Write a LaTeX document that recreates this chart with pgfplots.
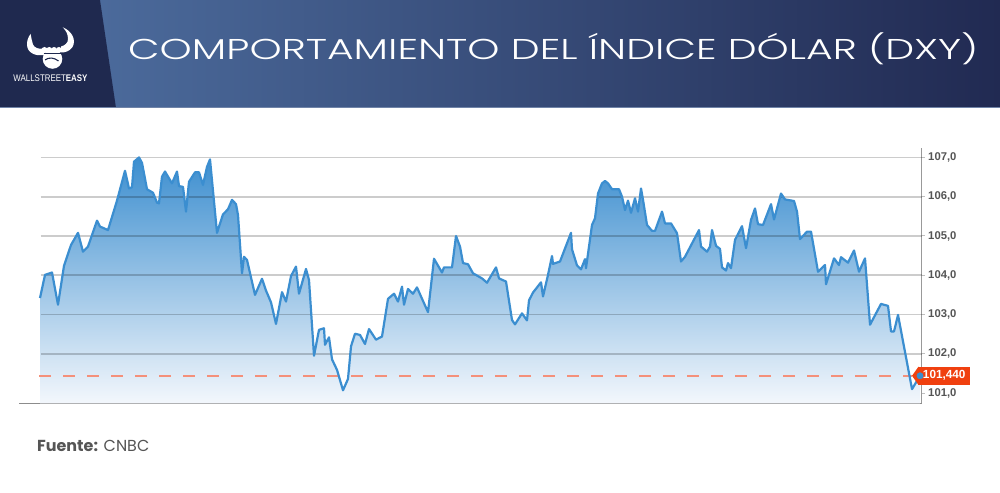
\documentclass[border=0pt]{standalone}
\usepackage{pgfplots}
\pgfplotsset{compat=1.18}
\usepackage{pgfplotstable}
\usepackage{graphicx}
\usepackage{fontspec}
\setmainfont{Liberation Sans}
\newfontfamily\titlefont{Poppins Light}
\newfontfamily\srcfont{Poppins}

\definecolor{navy}{HTML}{1F294F}
\definecolor{hdrL}{HTML}{4B6A9B}
\definecolor{hdrR}{HTML}{212A52}
\definecolor{hdrline}{HTML}{7084A8}
\definecolor{lineblue}{HTML}{3B8ED0}
\definecolor{filltop}{HTML}{3C8ECF}
\definecolor{fillbot}{HTML}{F3F7FC}
\definecolor{dashc}{HTML}{F4907A}
\definecolor{tagred}{HTML}{F0400F}
\definecolor{ticktext}{HTML}{555555}
\definecolor{axisgray}{HTML}{8C8C8C}

% DXY index, x = position along the time axis
\pgfplotstableread{
x y
40 103.42
45 104.01
52 104.07
58 103.25
64 104.24
71 104.77
78 105.08
83 104.60
88 104.73
97 105.39
100 105.24
108 105.15
117 105.90
125 106.66
129 106.21
132 106.24
134 106.89
139 107.00
142 106.86
147 106.19
153 106.10
157 105.85
159 105.83
162 106.51
165 106.64
172 106.34
177 106.64
179 106.27
183 106.25
186 105.62
189 106.38
195 106.62
199 106.62
203 106.30
207 106.76
210 106.95
217 105.08
223 105.55
228 105.68
232 105.92
236 105.81
238 105.53
242 104.05
244 104.47
247 104.39
255 103.50
262 103.91
266 103.61
271 103.31
276 102.76
282 103.57
286 103.33
291 103.98
296 104.22
299 103.53
306 104.16
309 103.88
314 101.95
319 102.61
324 102.65
325 102.23
329 102.42
332 101.86
337 101.59
343 101.07
348 101.36
351 102.19
355 102.51
360 102.48
365 102.25
369 102.63
376 102.36
382 102.44
388 103.40
394 103.53
398 103.33
402 103.71
404 103.25
408 103.65
413 103.53
417 103.69
428 103.06
434 104.42
442 104.07
444 104.20
452 104.20
456 105.00
460 104.73
463 104.31
468 104.28
473 104.05
482 103.92
487 103.81
496 104.20
499 103.92
506 103.84
512 102.86
515 102.75
522 103.03
527 102.85
529 103.36
533 103.56
541 103.82
543 103.46
548 104.01
552 104.49
553 104.29
560 104.35
571 105.08
572 104.66
577 104.25
581 104.15
585 104.41
586 104.18
592 105.28
595 105.45
598 106.08
602 106.34
605 106.40
608 106.34
612 106.19
619 106.19
622 106.00
625 105.66
628 105.90
631 105.59
635 105.96
638 105.62
641 106.21
643 105.92
647 105.28
652 105.13
655 105.13
662 105.62
665 105.32
671 105.32
677 105.07
681 104.35
685 104.47
699 105.15
701 104.73
707 104.60
710 104.73
712 105.15
716 104.75
720 104.67
722 104.20
726 104.12
728 104.31
731 104.18
735 104.90
742 105.25
746 104.69
751 105.41
755 105.70
758 105.30
763 105.28
771 105.81
774 105.42
781 106.08
785 105.93
794 105.89
797 105.62
800 104.92
807 105.11
811 105.11
818 104.09
825 104.26
826 103.77
834 104.43
839 104.26
841 104.46
848 104.32
854 104.63
859 104.09
865 104.43
870 102.74
881 103.27
888 103.22
891 102.57
894 102.57
898 102.99
912 101.10
920 101.44
}\dxy

\begin{document}
\begin{tikzpicture}[x=1bp,y=1bp]
\path[use as bounding box] (0,0) rectangle (1000,493);
\fill[white] (0,0) rectangle (1000,493);

% header band
\shade[left color=hdrL, right color=hdrR] (100,385) rectangle (1000,493);
\fill[navy] (0,385) -- (0,493) -- (100,493) -- (116,385) -- cycle;
\draw[hdrline, line width=1.2bp] (0,385.6) -- (1000,385.6);

% logo
\begin{scope}[shift={(0,493)}, yscale=-1]
  \fill[white] (30.5,34) .. controls (25.5,41) and (25.5,50) .. (32.5,53.5)
    .. controls (36,55.5) and (40,55.5) .. (44,55) -- (44,48.5)
    .. controls (39,49.5) and (34.5,48) .. (33,44.5)
    .. controls (31.5,41) and (31.5,37) .. cycle;
  \fill[white] (62.7,27.3) .. controls (72,31) and (76.5,40) .. (72.5,47)
    .. controls (69.5,51.5) and (65,52.5) .. (61,52.5) -- (61,46.5)
    .. controls (65,45.5) and (68,43) .. (68,39)
    .. controls (68,34) and (66,30.5) .. cycle;
  \fill[white] (52.5,59) circle (9.8);
  \foreach \k in {44.5,49.3,54.1,58.9} \fill[white] (\k,50) circle (3);
  \draw[navy, line width=1bp] (43.5,54) -- (61.5,54);
  \draw[navy, line width=1.1bp] (45,60) .. controls (49,57) and (54,57.5) .. (58.5,61);
\end{scope}
\node[anchor=base west, inner sep=0, text=white] at (13.3,411.3)
  {\resizebox{74bp}{6.7bp}{WALLSTREET\textbf{EASY}}};

% title
\node[anchor=base west, inner sep=0, text=white] at (128,433.7)
  {\resizebox{850bp}{20bp}{\titlefont\raisebox{0pt}[0.698em][0pt]{COMPORTAMIENTO DEL ÍNDICE DÓLAR (DXY)}}};

% source
\node[anchor=base west, inner sep=0, text=ticktext,
  font=\srcfont\fontsize{16}{16}\selectfont] at (37,41)
  {\textbf{Fuente:} CNBC};

\begin{axis}[
  at={(19bp,89.7bp)}, anchor=south west,
  scale only axis, width=902.7bp, height=255.3bp,
  xmin=19, xmax=921.7, ymin=100.74, ymax=107.24,
  axis x line=bottom, axis y line=right,
  axis line style={-},
  x axis line style={draw=axisgray, line width=1.5bp},
  y axis line style={draw=black!40, line width=1.5bp},
  xtick=\empty, ytick={101,102,...,107},
  tick align=outside, major tick length=3bp,
  tick style={draw=black!25, line width=1bp},
  /pgf/number format/fixed, /pgf/number format/fixed zerofill,
  /pgf/number format/precision=1, /pgf/number format/use comma,
  /pgf/number format/assume math mode=true,
  yticklabel style={font=\bfseries\fontsize{11.3}{11.3}\selectfont,
    text=ticktext},
  clip=false,
]
\addplot[draw=none, top color=filltop, bottom color=fillbot]
  table {\dxy} -- (axis cs:920,100.74) -- (axis cs:40,100.74) -- cycle;
\pgfplotsinvokeforeach{102,...,107}{
  \draw[line width=1.8bp, black, opacity=0.2]
    (axis cs:40.7,#1) -- (axis cs:921.7,#1);
}
\addplot[dashc, line width=2bp, dash pattern=on 12bp off 12bp]
  coordinates {(39,101.44) (912,101.44)};
\addplot[lineblue, line width=2.2bp, line join=round] table {\dxy};
\fill[tagred] (axis cs:912,101.44) -- (axis cs:918.5,101.673)
  -- (axis cs:918.5,101.207) -- cycle;
\node[anchor=west, fill=tagred, text=white, inner sep=0,
  minimum height=18.3bp, minimum width=52bp,
  font=\bfseries\fontsize{11.8}{11.8}\selectfont]
  at (axis cs:918,101.44) {101,440};
\addplot[only marks, mark=*, mark size=3.2bp, lineblue]
  coordinates {(920,101.44)};
\end{axis}
\end{tikzpicture}
\end{document}
